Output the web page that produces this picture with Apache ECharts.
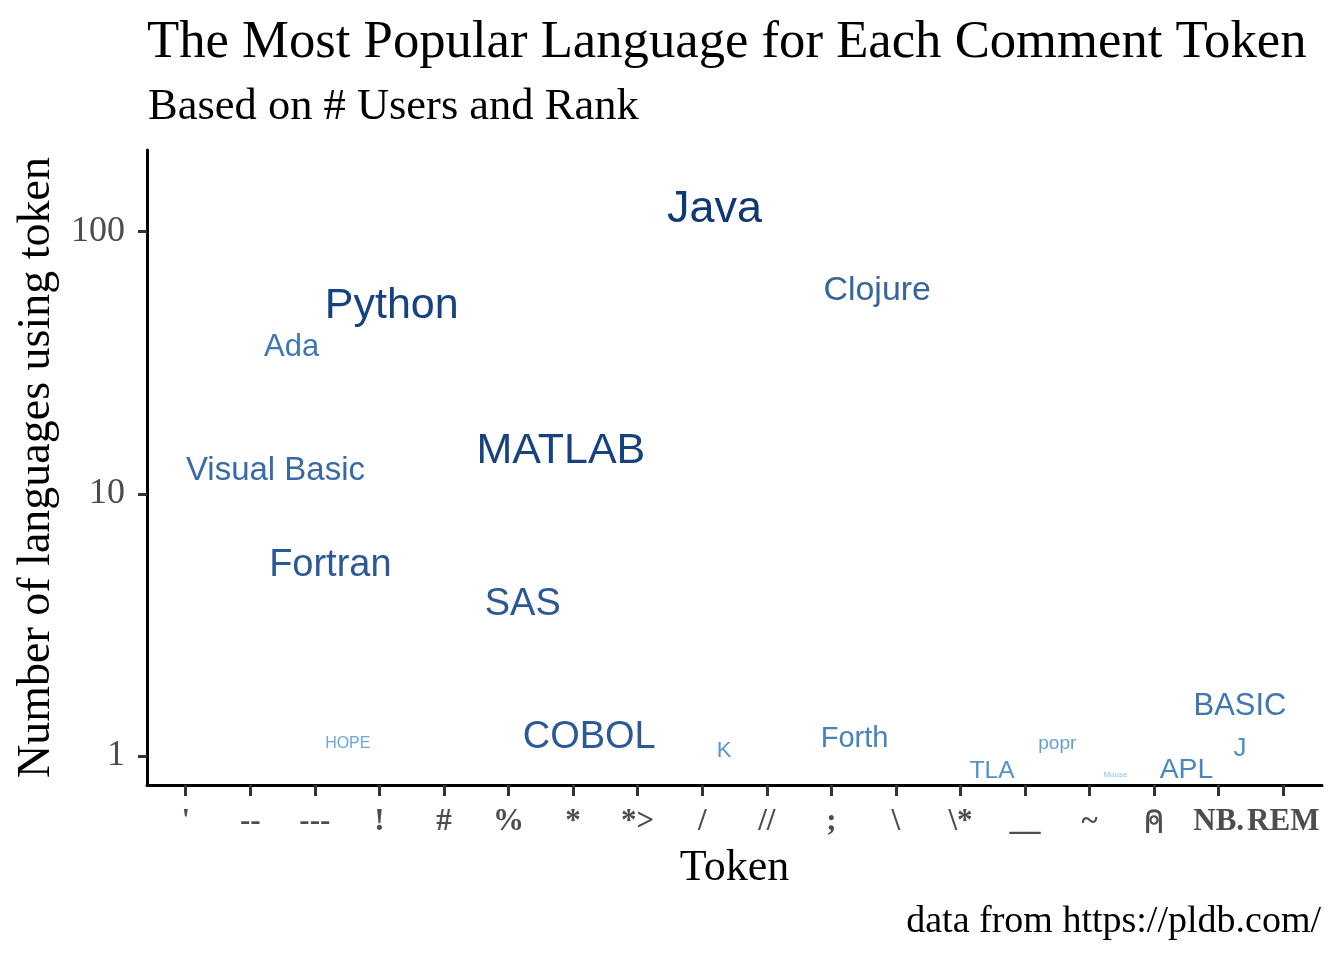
<!DOCTYPE html>
<html>
<head>
<meta charset="utf-8">
<script src="https://cdn.jsdelivr.net/npm/echarts@6/dist/echarts.min.js"></script>
<style>
  html, body { margin: 0; padding: 0; background: #fff; }
  #chart { width: 1344px; height: 960px; }
</style>
</head>
<body>
<div id="chart"></div>
<script>
// comment tokens on the x axis
const tokens = ["'", '--', '---', '!', '#', '%', '*', '*>', '/', '//', ';', '\\', '\\*', '__', '~', '\u235D', 'NB.', 'REM']
// languages, jittered token position, number of languages using the token, popularity score
const languages = ['Java', 'Python', 'MATLAB', 'Clojure', 'Ada', 'Visual Basic', 'Fortran', 'SAS', 'COBOL',
  'HOPE', 'K', 'Forth', 'TLA', 'popr', 'Mouse', 'APL', 'J', 'BASIC']
const tokenPos = [8.19, 3.19, 5.81, 10.71, 1.64, 1.39, 2.24, 5.22, 6.25,
  2.51, 8.34, 10.36, 12.49, 13.50, 14.40, 15.50, 16.33, 16.33]
const langCount = [124.6, 53.6, 15.0, 61.1, 37.2, 12.6, 5.45, 3.90, 1.21,
  1.14, 1.07, 1.19, 0.90, 1.14, 0.87, 0.91, 1.09, 1.59]
const popularity = [100, 94.6, 94.6, 70, 62, 67.6, 81, 81, 81,
  21.6, 38, 57, 44.6, 30, 0, 55, 48.6, 62]
const yTicks = [1, 10, 100]

// size and colour scales for popularity
const sizeScale = p => 8 + p * 0.37
const colorStops = [[0, [140, 194, 236]], [25, [101, 164, 216]], [55, [74, 134, 194]],
  [70, [52, 101, 159]], [82, [42, 88, 150]], [100, [14, 56, 118]]]
const colorScale = p => {
  for (let i = 1; i < colorStops.length; i++) {
    let [p1, c1] = colorStops[i]
    let [p0, c0] = colorStops[i - 1]
    if (p <= p1) {
      let t = (p - p0) / (p1 - p0)
      let c = c0.map((v, k) => Math.round(v + (c1[k] - v) * t))
      return 'rgb(' + c.join(',') + ')'
    }
  }
  return 'rgb(14,56,118)'
}

const serif = '"Liberation Serif", "Times New Roman", serif'

let myChart = echarts.init(document.getElementById('chart'))
let options = {
  animation: false,
  title: [
    {
      text: 'The Most Popular Language for Each Comment Token',
      left: 142, top: 12,
      textStyle: { fontFamily: serif, fontWeight: 'normal', fontSize: 52.7, color: '#000' }
    },
    {
      text: 'Based on # Users and Rank',
      left: 143, top: 80,
      textStyle: { fontFamily: serif, fontWeight: 'normal', fontSize: 44.5, color: '#000' }
    },
    {
      text: 'data from https://pldb.com/',
      right: 18, top: 898,
      textStyle: { fontFamily: serif, fontWeight: 'normal', fontSize: 38, color: '#000' }
    }
  ],
  grid: { left: 147, right: 22, top: 150, bottom: 175 },
  xAxis: {
    type: 'value',
    min: -0.6,
    max: 17.6,
    name: 'Token',
    nameLocation: 'middle',
    nameGap: 58,
    nameTextStyle: { fontFamily: serif, fontSize: 44, color: '#000' },
    axisLine: { show: true, onZero: false, lineStyle: { color: '#000', width: 3 } },
    axisTick: { show: true, length: 11, customValues: tokens.map((t, i) => i),
      lineStyle: { color: '#333', width: 3 } },
    axisLabel: {
      customValues: tokens.map((t, i) => i),
      formatter: v => {
        let t = tokens[Math.round(v)]
        return t === '\u235D' ? '{apl|' + t + '}' : t
      },
      rich: {
        apl: { fontFamily: '"DejaVu Sans", "DejaVu Sans Mono", sans-serif', fontWeight: 'normal',
          fontSize: 36, color: '#4d4d4d' }
      },
      margin: 21,
      fontFamily: serif,
      fontWeight: 'bold',
      fontSize: 31,
      color: '#4d4d4d'
    },
    splitLine: { show: false }
  },
  yAxis: {
    type: 'log',
    logBase: 10,
    min: 0.775,
    max: 205,
    name: 'Number of languages using token',
    nameLocation: 'middle',
    nameGap: 80,
    nameTextStyle: { fontFamily: serif, fontSize: 46, color: '#000' },
    axisLine: { show: true, onZero: false, lineStyle: { color: '#000', width: 3 } },
    axisTick: { show: true, length: 9, customValues: yTicks,
      lineStyle: { color: '#333', width: 3 } },
    axisLabel: {
      customValues: yTicks,
      margin: 22,
      fontFamily: serif,
      fontSize: 36,
      color: '#4d4d4d'
    },
    splitLine: { show: false }
  },
  series: [
    {
      type: 'scatter',
      symbol: 'circle',
      symbolSize: 1,
      itemStyle: { color: 'rgba(0,0,0,0)', opacity: 1 },
      label: {
        show: true,
        position: 'inside',
        formatter: '{b}',
        offset: [0, 3],
        opacity: 1,
        textBorderWidth: 0,
        textBorderColor: 'transparent',
        fontFamily: '"Liberation Sans", Arial, sans-serif'
      },
      data: languages.map((name, i) => ({
        name: name,
        value: [tokenPos[i], langCount[i]],
        label: { fontSize: sizeScale(popularity[i]), color: colorScale(popularity[i]) }
      }))
    }
  ]
}
myChart.setOption(options)
</script>
</body>
</html>
